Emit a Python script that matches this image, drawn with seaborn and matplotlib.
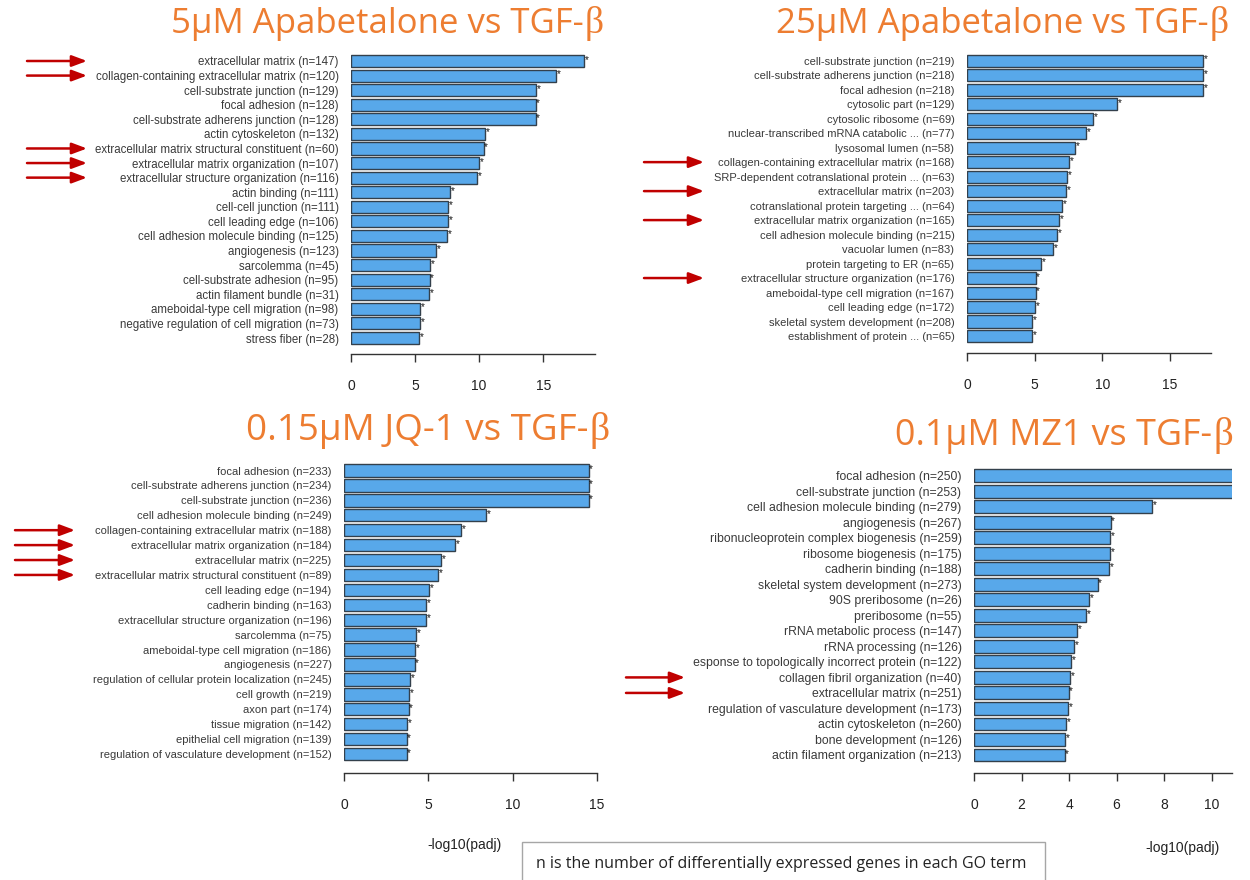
import numpy as np
import pandas as pd
import matplotlib
matplotlib.use("Agg")
import matplotlib.pyplot as plt
import seaborn as sns
from matplotlib.patches import Rectangle
from matplotlib.transforms import Bbox, TransformedBbox

# ---------------- data ----------------
p1_title = "5μM Apabetalone vs TGF-"
p1_terms = ["extracellular matrix", "collagen-containing extracellular matrix", "cell-substrate junction",
            "focal adhesion", "cell-substrate adherens junction", "actin cytoskeleton",
            "extracellular matrix structural constituent", "extracellular matrix organization",
            "extracellular structure organization", "actin binding", "cell-cell junction",
            "cell leading edge", "cell adhesion molecule binding", "angiogenesis", "sarcolemma",
            "cell-substrate adhesion", "actin filament bundle", "ameboidal-type cell migration",
            "negative regulation of cell migration", "stress fiber"]
p1_n = [147, 120, 129, 128, 128, 132, 60, 107, 116, 111, 111, 106, 125, 123, 45, 95, 31, 98, 73, 28]
p1_vals = [18.2, 16.0, 14.45, 14.4, 14.4, 10.43, 10.34, 10.0, 9.86, 7.74, 7.59, 7.56, 7.5,
           6.67, 6.16, 6.13, 6.07, 5.41, 5.41, 5.29]
p1_arrows = ["extracellular matrix", "collagen-containing extracellular matrix",
             "extracellular matrix structural constituent", "extracellular matrix organization",
             "extracellular structure organization"]

p2_title = "25μM Apabetalone vs TGF-"
p2_terms = ["cell-substrate junction", "cell-substrate adherens junction", "focal adhesion",
            "cytosolic part", "cytosolic ribosome", "nuclear-transcribed mRNA catabolic ...",
            "lysosomal lumen", "collagen-containing extracellular matrix",
            "SRP-dependent cotranslational protein ...", "extracellular matrix",
            "cotranslational protein targeting ...", "extracellular matrix organization",
            "cell adhesion molecule binding", "vacuolar lumen", "protein targeting to ER",
            "extracellular structure organization", "ameboidal-type cell migration",
            "cell leading edge", "skeletal system development", "establishment of protein ..."]
p2_n = [219, 218, 218, 129, 69, 77, 58, 168, 63, 203, 64, 165, 215, 83, 65, 176, 167, 172, 208, 65]
p2_vals = [17.45, 17.45, 17.45, 11.1, 9.34, 8.8, 8.0, 7.55, 7.4, 7.3, 7.0, 6.83, 6.68, 6.38,
           5.45, 5.06, 5.06, 5.03, 4.79, 4.79]
p2_arrows = ["collagen-containing extracellular matrix", "extracellular matrix",
             "extracellular matrix organization", "extracellular structure organization"]

p3_title = "0.15μM JQ-1 vs TGF-"
p3_terms = ["focal adhesion", "cell-substrate adherens junction", "cell-substrate junction",
            "cell adhesion molecule binding", "collagen-containing extracellular matrix",
            "extracellular matrix organization", "extracellular matrix",
            "extracellular matrix structural constituent", "cell leading edge", "cadherin binding",
            "extracellular structure organization", "sarcolemma", "ameboidal-type cell migration",
            "angiogenesis", "regulation of cellular protein localization", "cell growth",
            "axon part", "tissue migration", "epithelial cell migration",
            "regulation of vasculature development"]
p3_n = [233, 234, 236, 249, 188, 184, 225, 89, 194, 163, 196, 75, 186, 227, 245, 219, 174, 142, 139, 152]
p3_vals = [14.5, 14.5, 14.5, 8.4, 6.95, 6.57, 5.78, 5.57, 5.05, 4.89, 4.89, 4.27, 4.2, 4.18,
           3.9, 3.88, 3.83, 3.73, 3.71, 3.71]
p3_arrows = ["collagen-containing extracellular matrix", "extracellular matrix organization",
             "extracellular matrix", "extracellular matrix structural constituent"]

p4_title = "0.1μM MZ1 vs TGF-"
p4_terms = ["focal adhesion", "cell-substrate junction", "cell adhesion molecule binding",
            "angiogenesis", "ribonucleoprotein complex biogenesis", "ribosome biogenesis",
            "cadherin binding", "skeletal system development", "90S preribosome", "preribosome",
            "rRNA metabolic process", "rRNA processing",
            "response to topologically incorrect protein", "collagen fibril organization",
            "extracellular matrix", "regulation of vasculature development", "actin cytoskeleton",
            "bone development", "actin filament organization"]
p4_n = [250, 253, 279, 267, 259, 175, 188, 273, 26, 55, 147, 126, 122, 40, 251, 173, 260, 126, 213]
p4_vals = [12.5, 12.5, 7.5, 5.75, 5.73, 5.73, 5.7, 5.2, 4.85, 4.73, 4.35, 4.22, 4.08, 4.06,
           3.98, 3.96, 3.88, 3.83, 3.81]
p4_arrows = ["collagen fibril organization", "extracellular matrix"]

p1_ticks = [0, 5, 10, 15]
p2_ticks = [0, 5, 10, 15]
p3_ticks = [0, 5, 10, 15]
p4_ticks = [0, 2, 4, 6, 8, 10]

xlabel = "-log10(padj)"
note = "n is the number of differentially expressed genes in each GO term"

# ---------------- style ----------------
W, H = 1250, 880
sns.set_theme(style="white")
plt.rcParams["font.family"] = ["Liberation Sans", "DejaVu Sans"]

BAR = "#58A8EA"
EDGE = "#33404C"
LABEL = "#3a3a3a"
ORANGE = "#ED7D31"
ARROW = "#C00000"

fig = plt.figure(figsize=(W / 100, H / 100), dpi=100)
renderer = fig.canvas.get_renderer()


def px_axes(x0, x1, ytop, ybot):
    return fig.add_axes([x0 / W, 1 - ybot / H, (x1 - x0) / W, (ybot - ytop) / H])


def panel(terms, ns, vals, ticks, xmax, x0, x1, yfirst, ylast, axis_y, arrows, arrow_x,
          labelsize=8.0, clip_left=None):
    n = len(terms)
    s = (ylast - yfirst) / (n - 1)
    ytop = yfirst - 0.6 * s
    ybot = ylast + 0.6 * s
    ax = px_axes(x0, x1, ytop, ybot)
    labels = [f"{t} (n={k})" for t, k in zip(terms, ns)]
    df = pd.DataFrame({"label": labels, "value": vals})
    sns.barplot(data=df, x="value", y="label", order=labels, orient="y", color=BAR,
                saturation=1, edgecolor=EDGE, linewidth=1.0, width=0.83, ax=ax)
    ax.set_xlim(0, xmax)
    ax.set_ylim(n - 1 + 0.6, -0.6)
    ax.set_xlabel("")
    ax.set_ylabel("")
    for sp in ["left", "right", "top"]:
        ax.spines[sp].set_visible(False)
    ax.spines["bottom"].set_position(("outward", (axis_y - ybot) * 0.72))
    ax.spines["bottom"].set_color("#333333")
    ax.spines["bottom"].set_linewidth(1.0)
    ax.set_xticks(ticks)
    ax.set_xticklabels([str(t) for t in ticks])
    ax.tick_params(axis="x", bottom=True, length=6, width=1.0, color="#333333", pad=12,
                   labelsize=10, labelcolor="#222222")
    ax.tick_params(axis="y", left=False, length=0, pad=9, labelsize=labelsize, labelcolor=LABEL)
    for i, v in enumerate(vals):
        if v < xmax:
            ax.annotate("*", xy=(v, i), xytext=(0.5, 1.0), textcoords="offset points",
                        fontsize=7, ha="left", va="center", color="#111111")
    for i, t in enumerate(terms):
        if t in arrows:
            ax.annotate("", xy=(arrow_x[1] / W, i), xycoords=(fig.transFigure, ax.transData),
                        xytext=(arrow_x[0] / W, i), textcoords=(fig.transFigure, ax.transData),
                        arrowprops=dict(arrowstyle="-|>,head_length=0.75,head_width=0.28",
                                        color=ARROW, lw=1.8, shrinkA=0, shrinkB=0),
                        annotation_clip=False)
    if clip_left is not None:
        bb = TransformedBbox(Bbox([[clip_left / W, 0], [1, 1]]), fig.transFigure)
        for lbl in ax.get_yticklabels():
            lbl.set_clip_box(bb)
            lbl.set_clip_on(True)
    return ax


panel(p1_terms, p1_n, p1_vals, p1_ticks, 19.04, 351, 595, 61, 338, 354, p1_arrows, (27, 87),
      labelsize=8.3)
panel(p2_terms, p2_n, p2_vals, p2_ticks, 17.98, 967, 1210.5, 60.7, 336, 353, p2_arrows, (644, 704),
      labelsize=8.0)
panel(p3_terms, p3_n, p3_vals, p3_ticks, 15.0, 344, 597, 470.5, 754, 773, p3_arrows, (15, 75),
      labelsize=8.0)
panel(p4_terms, p4_n, p4_vals, p4_ticks, 10.86, 974, 1232, 475.7, 755, 773, p4_arrows, (626, 685),
      labelsize=8.8, clip_left=693)


def title(main, xright, ybase, size):
    t = fig.text(xright / W, 1 - ybase / H, main, ha="right", va="baseline",
                 fontsize=size, color=ORANGE, family=["Open Sans", "DejaVu Sans"])
    ext = t.get_window_extent(renderer)
    fig.text((ext.x1 + 1) / W, 1 - ybase / H, "β", ha="left", va="baseline",
             fontsize=size * 1.08, color=ORANGE, family=["Liberation Serif", "DejaVu Serif"])


title(p1_title, 584, 33, 25)
title(p2_title, 1209, 33, 25)
title(p3_title, 588, 440, 26.5)
title(p4_title, 1212, 445, 25.8)

fig.text(465 / W, 1 - 845 / H, xlabel, ha="center", va="center", fontsize=10, color="#222222")
fig.text(1182 / W, 1 - 848 / H, xlabel, ha="center", va="center", fontsize=10, color="#222222")

fig.add_artist(Rectangle((522 / W, -0.02), (1045 - 522) / W, 0.02 + (880 - 842) / H,
                         transform=fig.transFigure, facecolor="white", edgecolor="#A6A6A6",
                         linewidth=1.0))
fig.text(781 / W, 1 - 864 / H, note, ha="center", va="center", fontsize=11.5, color="#222222",
         family=["Open Sans", "DejaVu Sans"])

fig.savefig("out.png", dpi=100, facecolor="white")
